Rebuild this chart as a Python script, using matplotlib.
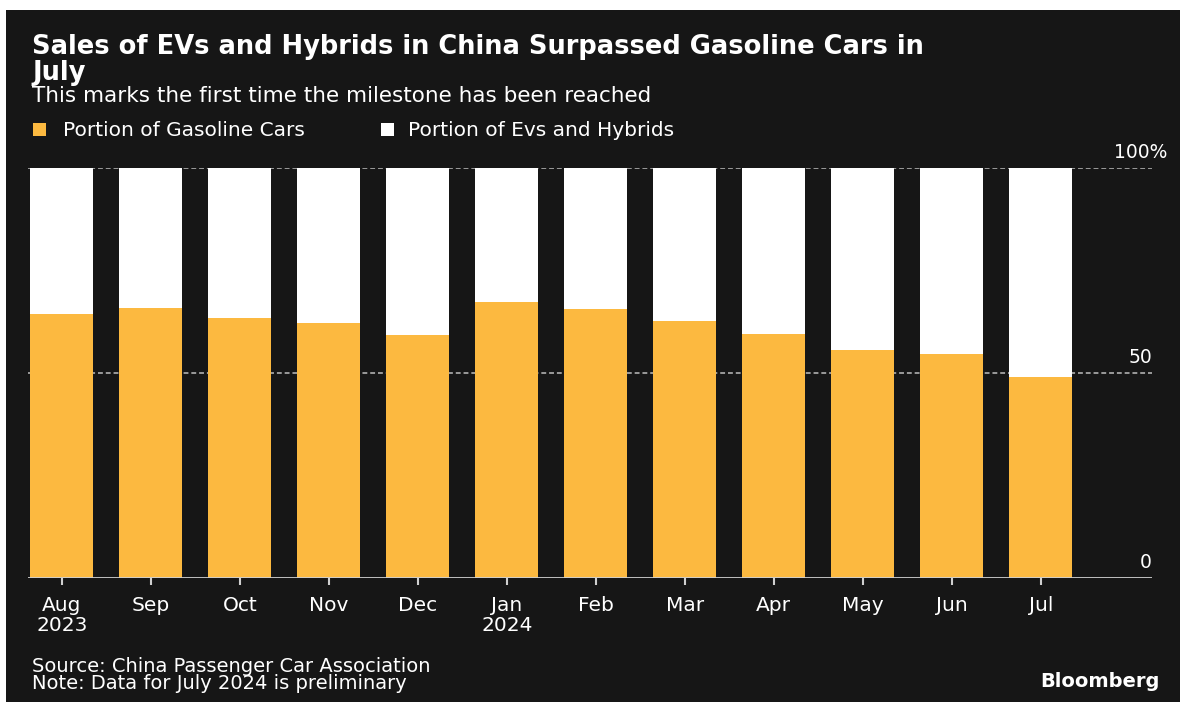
import matplotlib.pyplot as plt
from matplotlib.patches import Rectangle
import numpy as np

# Data
months = ['Aug\n2023', 'Sep', 'Oct', 'Nov', 'Dec', 'Jan\n2024', 'Feb', 'Mar',
          'Apr', 'May', 'Jun', 'Jul']
gasoline = [64.4, 65.9, 63.4, 62.2, 59.3, 67.3, 65.6, 62.7, 59.5, 55.6, 54.6, 49.0]
ev_hybrid = [100 - g for g in gasoline]
y_ticks = [0, 50, 100]
y_labels = ['0', '50', '100%']

BG = '#161616'
ORANGE = '#FCB940'
W, H = 1180, 702

plt.rcParams['font.family'] = ['DejaVu Sans']

fig = plt.figure(figsize=(W / 100, H / 100), dpi=100)
fig.patch.set_facecolor('white')
# dark panel with thin white margin top/left
fig.add_artist(Rectangle((6 / W, 0), 1, 1 - 10 / H, transform=fig.transFigure,
                         facecolor=BG, edgecolor='none', zorder=-10))

def fx(px):
    return px / W

def fy(py):
    return 1 - py / H

ax = fig.add_axes([fx(28), fy(578), fx(1152) - fx(28), fy(168) - fy(578)])
ax.set_facecolor('none')
x = np.arange(len(months))
ax.bar(x, gasoline, width=0.71, color=ORANGE, zorder=3)
ax.bar(x, ev_hybrid, width=0.71, bottom=gasoline, color='white', zorder=3)

ax.set_xlim(-0.38, 12.25)
ax.set_ylim(0, 100)
for s in ax.spines.values():
    s.set_visible(False)
ax.axhline(0, color='#d0d0d0', lw=2, zorder=4)
for t in y_ticks[1:]:
    ax.axhline(t, color='#9a9a9a', lw=1.4, ls=(0, (2.5, 1.5)), zorder=1)
for t, lab in zip(y_ticks, y_labels):
    ax.annotate(lab, xy=(1, t), xycoords=('axes fraction', 'data'),
                xytext=(11 if lab == '100%' else 0, 7), textcoords='offset points',
                ha='right', va='baseline', color='white', fontsize=13.5)

ax.set_yticks([])
ax.set_xticks(x)
ax.set_xticklabels(months, color='white', fontsize=14.5, linespacing=1.05)
ax.tick_params(axis='x', colors='#d0d0d0', length=5, width=1.5, pad=8,
               labelcolor='white')

fig.text(fx(32), fy(54), 'Sales of EVs and Hybrids in China Surpassed Gasoline Cars in',
         color='white', fontsize=18.5, fontweight='heavy', va='baseline', ha='left')
fig.text(fx(32), fy(80), 'July',
         color='white', fontsize=18.5, fontweight='heavy', va='baseline', ha='left')
fig.text(fx(32), fy(102), 'This marks the first time the milestone has been reached',
         color='white', fontsize=15.5, va='baseline', ha='left')

# legend
fig.add_artist(Rectangle((fx(33), fy(136)), 13 / W, 13 / H, transform=fig.transFigure,
                         facecolor=ORANGE, edgecolor='none'))
fig.text(fx(63), fy(136), 'Portion of Gasoline Cars', color='white', fontsize=14.5,
         va='baseline', ha='left')
fig.add_artist(Rectangle((fx(381), fy(136)), 13 / W, 13 / H, transform=fig.transFigure,
                         facecolor='white', edgecolor='none'))
fig.text(fx(408), fy(136), 'Portion of Evs and Hybrids', color='white', fontsize=14.5,
         va='baseline', ha='left')

fig.text(fx(32), fy(672), 'Source: China Passenger Car Association',
         color='white', fontsize=14, va='baseline', ha='left')
fig.text(fx(32), fy(689), 'Note: Data for July 2024 is preliminary',
         color='white', fontsize=14, va='baseline', ha='left')
fig.text(fx(1160), fy(687), 'Bloomberg', color='white', fontsize=14,
         fontweight='bold', va='baseline', ha='right')

fig.savefig('out.png', dpi=100, facecolor=fig.get_facecolor())
